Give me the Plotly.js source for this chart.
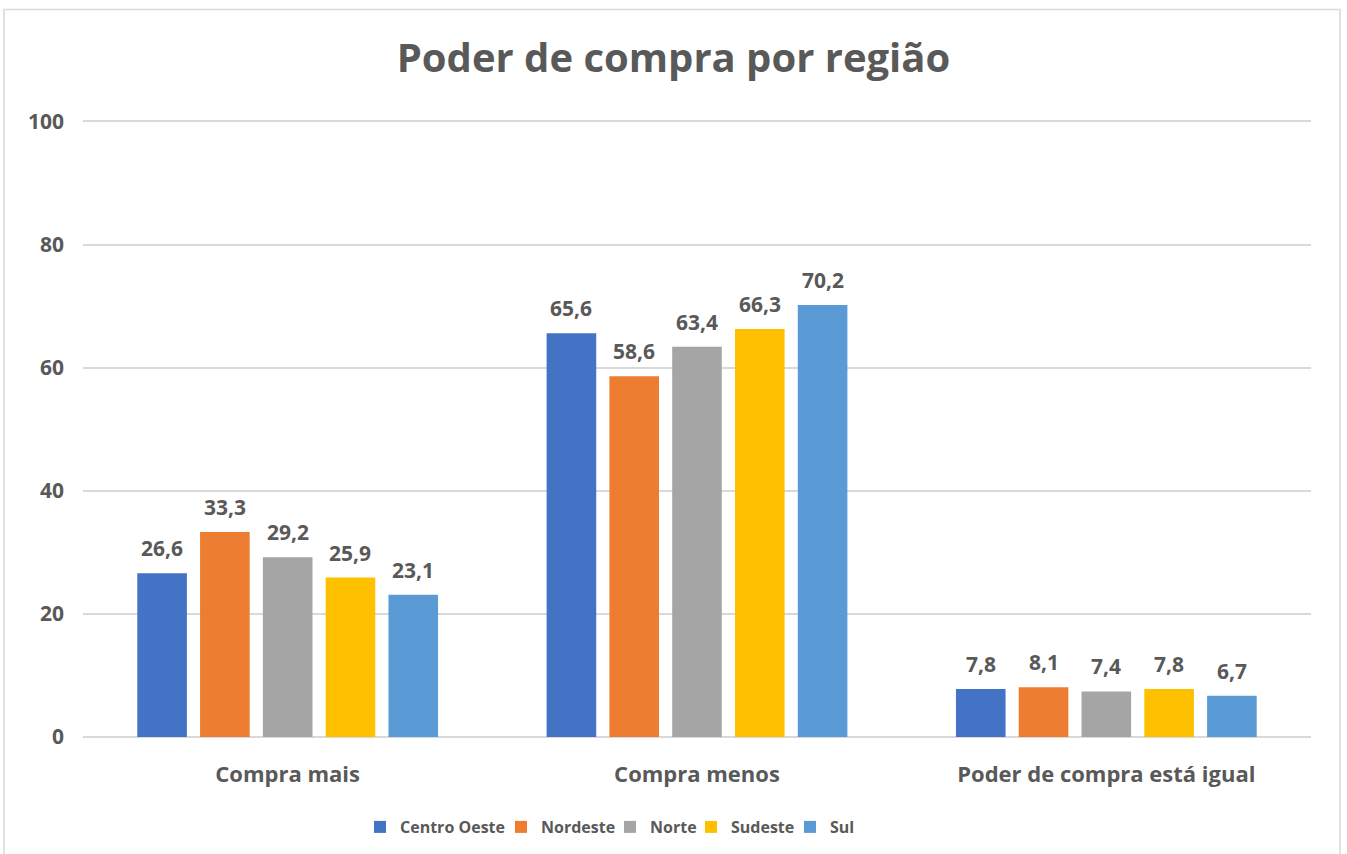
<!DOCTYPE html>
<html>
<head>
<meta charset="utf-8">
<script src="https://cdn.plot.ly/plotly-3.0.1.min.js"></script>
<style>
html,body{margin:0;padding:0;background:#fff;}
#chart{width:1347px;height:854px;}
</style>
</head>
<body>
<div id="chart"></div>
<script>
var categories = ["Compra mais", "Compra menos", "Poder de compra está igual"];
var seriesNames = ["Centro Oeste", "Nordeste", "Norte", "Sudeste", "Sul"];
var centroOeste = [26.6, 65.6, 7.8];
var nordeste = [33.3, 58.6, 8.1];
var norte = [29.2, 63.4, 7.4];
var sudeste = [25.9, 66.3, 7.8];
var sul = [23.1, 70.2, 6.7];
var yTicks = [0, 20, 40, 60, 80, 100];

var seriesValues = [centroOeste, nordeste, norte, sudeste, sul];
var colors = ["#4472C4", "#ED7D31", "#A5A5A5", "#FFC000", "#5B9BD5"];
var legendLeft = [360, 501, 610, 691, 790];
var textColor = "#595959";
var font = "'Open Sans', sans-serif";
var legendIds = ["legend", "legend2", "legend3", "legend4", "legend5"];

var traces = seriesValues.map(function (vals, i) {
  return {
    type: "bar",
    name: seriesNames[i],
    x: categories,
    y: vals,
    legend: legendIds[i],
    marker: { color: colors[i] },
    hoverinfo: "x+y+name"
  };
});

var bargap = 0.233;
var plotW = 1347 - 83 - 36;
var slot = plotW / categories.length * (1 - bargap) / seriesValues.length;
var annotations = [];
seriesValues.forEach(function (vals, i) {
  vals.forEach(function (v, j) {
    annotations.push({
      x: categories[j], y: v, xref: "x", yref: "y",
      text: v.toFixed(1).replace(".", ","),
      showarrow: false, yanchor: "bottom",
      xshift: (i - (seriesValues.length - 1) / 2) * slot,
      yshift: 9,
      font: { family: font, size: 21, color: textColor, weight: "bold" }
    });
  });
});

var layout = {
  width: 1347, height: 854,
  margin: { l: 83, r: 36, t: 118.5, b: 117 },
  paper_bgcolor: "#fff", plot_bgcolor: "#fff",
  separators: ",.",
  title: {
    text: "<b>Poder de compra por região</b>",
    x: 0.5, xref: "container", xanchor: "center",
    y: 1 - 58 / 854, yanchor: "middle",
    font: { family: font, size: 40, color: textColor }
  },
  barmode: "group",
  bargap: bargap,
  bargroupgap: 0.21,
  xaxis: {
    type: "category",
    showgrid: false, showline: false, zeroline: false,
    ticks: "", ticklen: 0,
    ticklabelstandoff: 22,
    tickfont: { family: font, size: 22, color: textColor, weight: "bold" },
    automargin: false
  },
  yaxis: {
    range: [0, 100.4],
    tickvals: yTicks,
    ticktext: yTicks.map(String),
    showgrid: true, gridcolor: "#D9D9D9", gridwidth: 1.5,
    zeroline: true, zerolinecolor: "#D9D9D9", zerolinewidth: 1.5,
    showline: false, ticks: "",
    ticklabelstandoff: 18,
    tickfont: { family: font, size: 21, color: textColor, weight: "bold" },
    automargin: false
  },
  annotations: annotations,
  shapes: [{
    type: "rect", xref: "paper", yref: "paper",
    x0: (4 - 83) / plotW, x1: (1340 - 83) / plotW,
    y0: (737 - 870) / 618.5, y1: (737 - 9) / 618.5,
    line: { color: "#D9D9D9", width: 1.5 }, fillcolor: "rgba(0,0,0,0)",
    layer: "below"
  }],
  showlegend: true
};

legendIds.forEach(function (id, i) {
  layout[id] = {
    orientation: "h",
    xref: "container", yref: "container",
    x: legendLeft[i] / 1347, xanchor: "left",
    y: 1 - 827 / 854, yanchor: "middle",
    itemwidth: 30,
    font: { family: font, size: 16, color: textColor, weight: "bold" },
    itemclick: false, itemdoubleclick: false,
    bgcolor: "rgba(0,0,0,0)"
  };
});

Plotly.newPlot("chart", traces, layout, { displayModeBar: false });
</script>
</body>
</html>
